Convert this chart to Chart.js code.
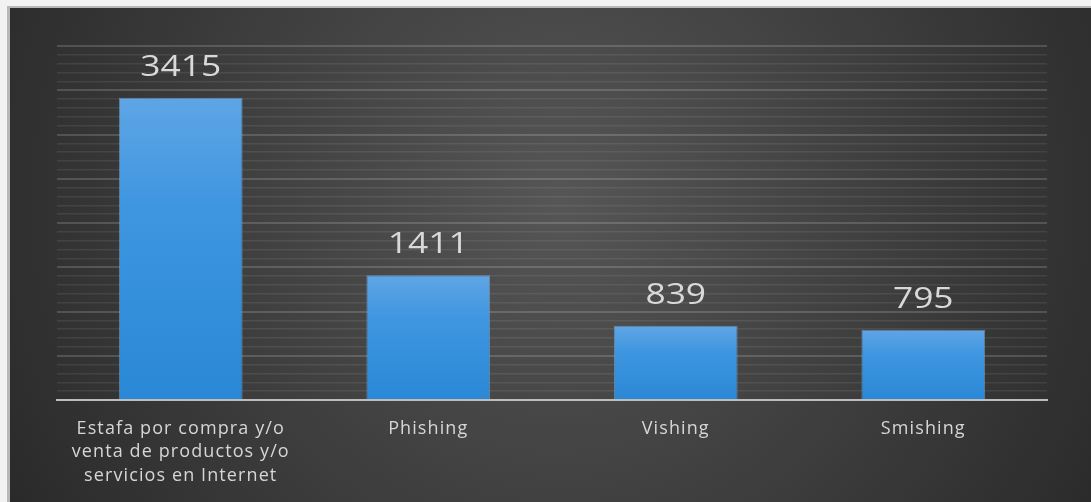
<!DOCTYPE html>
<html>
<head>
<meta charset="utf-8">
<script src="https://cdn.jsdelivr.net/npm/chart.js@4/dist/chart.umd.min.js"></script>
<style>
  html, body { margin: 0; padding: 0; background: #e8e8e8; }
  #wrap { position: absolute; left: 0; top: 0; width: 1091px; height: 502px; }
</style>
</head>
<body>
<div id="wrap"><canvas id="bar_chart"></canvas></div>
<script>
// categorias y valores
var categorias = [
    ['Estafa por compra y/o', 'venta de productos y/o', 'servicios en Internet'],
    'Phishing',
    'Vishing',
    'Smishing'
];
var casos = [3415, 1411, 839, 795];
var eje_max = 4000;
var paso_menor = 100;
var paso_mayor = 500;

// fondo oscuro con marco claro arriba/izquierda
var fondo = {
    id: 'fondo',
    beforeDraw: function(chart){
        var ctx = chart.ctx, w = chart.width, h = chart.height;
        ctx.save();
        ctx.fillStyle = '#f2f2f2';
        ctx.fillRect(0, 0, w, h);
        ctx.fillStyle = '#b8b8b8';
        ctx.fillRect(7, 6, w, 2);
        ctx.fillRect(7, 6, 3, h);
        var g = ctx.createRadialGradient(560, 200, 10, 560, 200, 640);
        g.addColorStop(0, '#555555');
        g.addColorStop(0.5, '#3f3f3f');
        g.addColorStop(1, '#292929');
        ctx.fillStyle = g;
        ctx.fillRect(10, 8, w - 10, h - 8);
        ctx.restore();
        // un poco mas ancho el texto, como en el original
        ctx.letterSpacing = '1.1px';
    }
};

// etiquetas de datos encima de cada barra
var etiquetas = {
    id: 'etiquetas',
    afterDatasetsDraw: function(chart){
        var ctx = chart.ctx;
        var meta = chart.getDatasetMeta(0);
        ctx.save();
        ctx.letterSpacing = '0px';
        ctx.fillStyle = '#d9d9d9';
        ctx.font = '29px "Open Sans"';
        ctx.textAlign = 'center';
        ctx.textBaseline = 'alphabetic';
        meta.data.forEach(function(bar, i){
            ctx.save();
            ctx.translate(bar.x, bar.y - 22);
            ctx.scale(1.22, 1);
            ctx.fillText(String(casos[i]), 0, 0);
            ctx.restore();
        });
        ctx.restore();
    }
};

// degradado por barra (claro arriba, mas intenso abajo)
function color_barra(c){
    var ch = c.chart;
    var area = ch.chartArea;
    var ys = ch.scales && ch.scales.y;
    if (!area || !ys) return '#3f95dd';
    var top = ys.getPixelForValue(casos[c.dataIndex]);
    var base = area.bottom;
    if (!isFinite(top) || !isFinite(base) || base <= top) return '#3f95dd';
    var g = ch.ctx.createLinearGradient(0, top, 0, base);
    g.addColorStop(0, '#5fa5e5');
    g.addColorStop(0.35, '#3f96e0');
    g.addColorStop(1, '#2a88d6');
    return g;
}

var ctx = document.getElementById('bar_chart').getContext('2d');

var sale_chart = new Chart(ctx, {
    type: 'bar',
    data: {
        labels: categorias,
        datasets: [{
            data: casos,
            backgroundColor: color_barra,
            borderColor: 'rgba(130,190,240,0.55)',
            borderWidth: { top: 1, left: 1, right: 1, bottom: 0 },
            categoryPercentage: 1,
            barPercentage: 0.5
        }]
    },
    options: {
        responsive: true,
        maintainAspectRatio: false,
        animation: false,
        layout: { padding: { left: 57, right: 44, top: 46, bottom: 0 } },
        plugins: { legend: { display: false }, tooltip: { enabled: false } },
        scales: {
            x: {
                grid: { display: false },
                border: { color: '#bdbdbd', width: 2 },
                ticks: {
                    color: '#d6d6d6',
                    font: { family: '"Open Sans"', size: 18, lineHeight: 1.3 },
                    padding: 9,
                    maxRotation: 0,
                    autoSkip: false
                },
                afterFit: function(s){ s.height = 102; }
            },
            y: {
                min: 0,
                max: eje_max,
                border: { display: false },
                ticks: { display: false, stepSize: paso_menor },
                grid: {
                    drawTicks: false,
                    lineWidth: function(c){ return c.tick && c.tick.value % paso_mayor === 0 ? 2 : 1.5; },
                    color: function(c){
                        if (c.tick && c.tick.value === 0) return 'rgba(0,0,0,0)';
                        return c.tick && c.tick.value % paso_mayor === 0 ? 'rgba(255,255,255,0.16)' : 'rgba(255,255,255,0.08)';
                    }
                },
                afterFit: function(s){ s.width = 0; }
            }
        }
    },
    plugins: [fondo, etiquetas]
});
</script>
</body>
</html>
